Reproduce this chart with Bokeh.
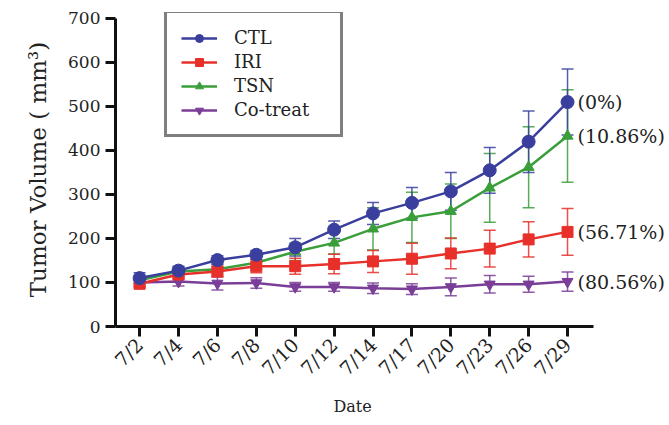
from math import pi
from bokeh.plotting import figure
from bokeh.models import (Range1d, FixedTicker, Whisker, TeeHead, ColumnDataSource,
                          Legend, LegendItem, Label, Title)
from bokeh.embed import file_html
from bokeh.resources import INLINE

dates = ["7/2", "7/4", "7/6", "7/8", "7/10", "7/12", "7/14", "7/17", "7/20", "7/23", "7/26", "7/29"]
ctl = [110, 127, 151, 163, 180, 220, 257, 281, 307, 355, 420, 510]
ctl_err = [12, 10, 10, 10, 20, 20, 25, 35, 43, 52, 70, 75]
iri = [97, 118, 125, 137, 137, 142, 148, 154, 166, 177, 198, 215]
iri_err = [8, 10, 12, 15, 18, 22, 25, 35, 35, 42, 40, 53]
tsn = [105, 125, 130, 145, 170, 190, 222, 248, 262, 315, 362, 433]
tsn_err = [8, 10, 12, 15, 20, 25, 48, 57, 62, 78, 92, 105]
cot = [100, 102, 98, 99, 90, 90, 87, 85, 90, 96, 96, 102]
cot_err = [8, 10, 15, 12, 10, 10, 12, 12, 20, 20, 18, 22]
series_names = ["CTL", "IRI", "TSN", "Co-treat"]
end_labels = ["(0%)", "(56.71%)", "(10.86%)", "(80.56%)"]
y_ticks = [0, 100, 200, 300, 400, 500, 600, 700]

FONT = "DejaVu Serif"
TXT = "#222222"

p = figure(width=669, height=425, output_backend="svg", toolbar_location=None,
           x_range=Range1d(-0.62, 13.57), y_range=Range1d(0, 713.6),
           min_border_left=115, min_border_right=2, min_border_top=12, min_border_bottom=99)
p.grid.visible = False
p.outline_line_color = None

xs = list(range(len(dates)))
specs = [
    ("CTL", ctl, ctl_err, "#3a3f9e", "circle", 13),
    ("IRI", iri, iri_err, "#e8302b", "square", 11),
    ("TSN", tsn, tsn_err, "#3a9e3a", "triangle", 11),
    ("Co-treat", cot, cot_err, "#7a3e98", "inverted_triangle", 11),
]

items = {}
for name, ys, err, color, marker, size in reversed(specs):
    src = ColumnDataSource(dict(x=xs, y=ys,
                                upper=[a + b for a, b in zip(ys, err)],
                                lower=[a - b for a, b in zip(ys, err)]))
    w = Whisker(base="x", upper="upper", lower="lower", source=src,
                line_color=color, line_width=1.5, line_alpha=0.85,
                upper_head=TeeHead(size=12, line_color=color, line_width=1.5, line_alpha=0.85),
                lower_head=TeeHead(size=12, line_color=color, line_width=1.5, line_alpha=0.85))
    p.add_layout(w)
    r1 = p.line("x", "y", source=src, line_color=color, line_width=2.5)
    r2 = p.scatter("x", "y", source=src, marker=marker, size=size,
                   fill_color=color, line_color=color)
    items[name] = [r1, r2]

legend = Legend(items=[LegendItem(label=n, renderers=items[n]) for n in series_names],
                location=(49, 189))
legend.border_line_color = "black"
legend.border_line_width = 3
legend.background_fill_color = "white"
legend.background_fill_alpha = 1
legend.label_text_font = FONT
legend.label_text_font_size = "18px"
legend.label_text_color = TXT
legend.glyph_width = 36
legend.glyph_height = 20
legend.label_height = 20
legend.label_width = 92
legend.label_standoff = 17
legend.spacing = 3
legend.padding = 14
legend.margin = 0
p.add_layout(legend, "center")

for lab, ys in zip(end_labels, [ctl, iri, tsn, cot]):
    p.add_layout(Label(x=xs[-1], y=ys[-1], x_offset=10, text=lab, text_baseline="middle",
                       text_font=FONT, text_font_size="19px", text_color=TXT))

for ax in (p.xaxis[0], p.yaxis[0]):
    ax.axis_line_width = 3
    ax.axis_line_color = "#111111"
    ax.major_tick_line_width = 3
    ax.major_tick_line_color = "#111111"
    ax.major_tick_out = 10
    ax.major_tick_in = 0
    ax.minor_tick_line_color = None
    ax.major_label_text_font = FONT
    ax.major_label_text_color = TXT
    ax.axis_label_text_font = FONT
    ax.axis_label_text_font_style = "normal"
    ax.axis_label_text_color = TXT

p.xaxis.bounds = (-0.62, 11.67)
p.xaxis.ticker = FixedTicker(ticks=xs)
p.xaxis.major_label_overrides = {i: d for i, d in enumerate(dates)}
p.xaxis.major_label_orientation = pi / 4
p.xaxis.major_label_text_font_size = "19px"
p.xaxis.major_label_standoff = 5

date_title = Title(text="Date", align="left", offset=218, standoff=8,
                   text_font=FONT, text_font_size="16px", text_font_style="normal",
                   text_color=TXT)
p.add_layout(date_title, "below")

p.yaxis.bounds = (0, 700)
p.yaxis.ticker = FixedTicker(ticks=y_ticks)
p.yaxis.major_label_text_font_size = "17px"
p.yaxis.major_label_standoff = 5
p.yaxis.axis_label = "Tumor Volume ( mm³)"
p.yaxis.axis_label_text_font_size = "23px"
p.yaxis.axis_label_standoff = 14

open("out.html", "w").write(file_html(p, INLINE))
